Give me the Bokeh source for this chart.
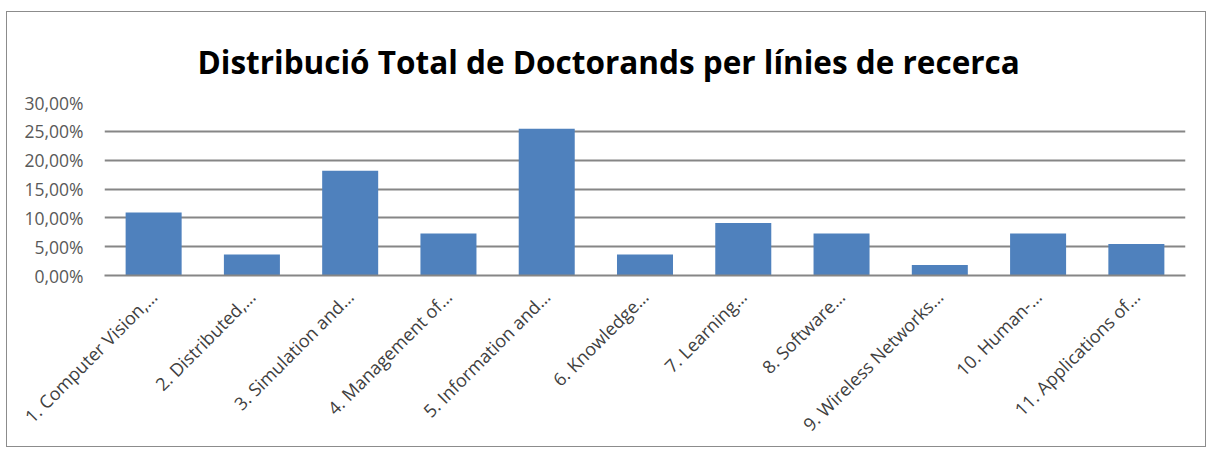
from bokeh.plotting import figure
from bokeh.models import FactorRange, Range1d, FixedTicker, CustomJSTickFormatter, ColumnDataSource
from bokeh.embed import file_html
from bokeh.resources import INLINE
import math

categories = ["1. Computer Vision,\u2026", "2. Distributed,\u2026", "3. Simulation and\u2026",
              "4. Management of\u2026", "5. Information and\u2026", "6. Knowledge\u2026",
              "7. Learning\u2026", "8. Software\u2026", "9. Wireless Networks\u2026",
              "10. Human-\u2026", "11. Applications of\u2026"]
values = [10.91, 3.64, 18.18, 7.27, 25.45, 3.64, 9.09, 7.27, 1.82, 7.27, 5.45]
y_ticks = [0, 5, 10, 15, 20, 25, 30]
title_text = "Distribució Total de Doctorands per línies de recerca"

src = ColumnDataSource(dict(cat=categories, val=values))

p = figure(width=1200, height=436, x_range=FactorRange(*categories, range_padding=0),
           y_range=Range1d(0, 30), output_backend="svg", toolbar_location=None,
           title=title_text, min_border_left=97, min_border_right=22,
           min_border_top=90, min_border_bottom=173)
p.margin = (11, 0, 0, 6)
p.styles = {"border": "1px solid #8c8c8c"}

p.title.align = "left"
p.title.offset = 93
p.title.text_font = "Open Sans"
p.title.text_font_style = "bold"
p.title.text_font_size = "31.5px"
p.title.text_color = "#000000"
p.title.standoff = 40

p.vbar(x="cat", top="val", width=0.57, source=src, fill_color="#4F81BD", line_color=None)

p.outline_line_color = None
p.xgrid.grid_line_color = None
p.ygrid.grid_line_color = "#868686"
p.ygrid.grid_line_width = 2
p.yaxis.ticker = FixedTicker(ticks=y_ticks)
p.yaxis.formatter = CustomJSTickFormatter(code="return tick.toFixed(2).replace('.', ',') + '%';")
p.yaxis.axis_line_color = None
p.yaxis.major_tick_line_color = None
p.yaxis.minor_tick_line_color = None
p.yaxis.major_label_text_font = "Open Sans"
p.yaxis.major_label_text_font_size = "17.5px"
p.yaxis.major_label_text_color = "#595959"
p.yaxis.major_label_standoff = 15

p.xaxis.axis_line_color = "#868686"
p.xaxis.axis_line_width = 2
p.xaxis.major_tick_line_color = None
p.xaxis.minor_tick_line_color = None
p.xaxis.major_label_orientation = math.pi / 4
p.xaxis.major_label_text_font = "Open Sans"
p.xaxis.major_label_text_font_size = "18px"
p.xaxis.major_label_text_color = "#404040"
p.xaxis.major_label_standoff = 12

open("out.html", "w").write(file_html(p, INLINE))
